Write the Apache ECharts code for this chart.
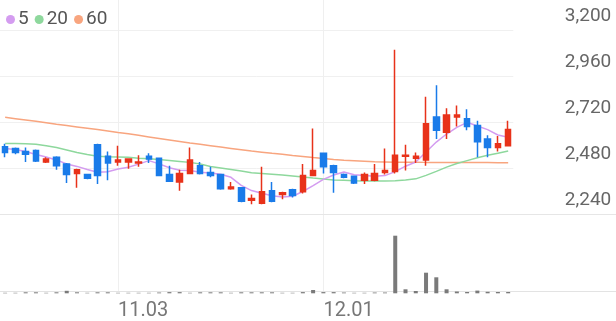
<!DOCTYPE html>
<html><head><meta charset="utf-8">
<script src="https://cdn.jsdelivr.net/npm/echarts@6/dist/echarts.min.js"></script>
<style>html,body{margin:0;padding:0;background:#fff}#c{width:616px;height:321px}</style>
</head><body><div id="c"></div>
<script>
const dates = ['10.17','10.20','10.21','10.22','10.23','10.24','10.27','10.28','10.29','10.30','10.31',
  '11.03','11.04','11.05','11.06','11.07','11.10','11.11','11.12','11.13','11.14','11.17','11.18','11.19','11.20','11.21','11.24','11.25','11.26','11.27','11.28',
  '12.01','12.02','12.03','12.04','12.05','12.08','12.09','12.10','12.11','12.12','12.15','12.16','12.17','12.18','12.19','12.22','12.23','12.24','12.26'];
const emptySlots = ['s1','s2','s3','s4','s5','s6','s7','s8','s9','s10'];
const opens  = [2595,2585,2570,2575,2515,2540,2505,2455,2450,2605,2545,2515,2515,2510,2545,2535,2450,2410,2455,2495,2460,2450,2375,2380,2315,2300,2365,2345,2370,2360,2445,2560,2495,2450,2440,2420,2420,2460,2465,2545,2535,2525,2750,2670,2750,2740,2705,2635,2590,2600];
const closes = [2565,2565,2555,2520,2530,2495,2450,2475,2430,2445,2510,2525,2530,2515,2530,2445,2415,2455,2525,2455,2445,2375,2385,2310,2325,2360,2310,2355,2340,2445,2470,2490,2460,2435,2405,2450,2455,2470,2550,2550,2545,2715,2680,2760,2760,2700,2620,2590,2610,2685];
const lows   = [2540,2555,2515,2515,2510,2475,2405,2380,2425,2400,2420,2495,2480,2490,2510,2440,2410,2365,2455,2450,2435,2370,2370,2305,2295,2295,2305,2320,2330,2350,2440,2455,2355,2430,2400,2400,2415,2450,2455,2470,2510,2495,2635,2635,2700,2680,2540,2540,2570,2600];
const highs  = [2610,2590,2590,2580,2540,2545,2510,2480,2450,2610,2570,2600,2535,2550,2560,2535,2495,2475,2590,2515,2490,2450,2410,2380,2345,2490,2410,2360,2375,2505,2690,2565,2500,2455,2445,2460,2505,2585,3100,2605,2565,2855,2915,2795,2810,2790,2730,2655,2650,2730];
const ma5  = [2586,2580,2570,2554,2541,2525,2505,2492,2476,2461,2464,2478,2488,2504,2522,2505,2485,2472,2470,2462,2458,2451,2435,2393,2366,2352,2339,2332,2336,2361,2392,2424,2447,2463,2448,2444,2441,2444,2465,2493,2515,2567,2619,2661,2696,2722,2703,2684,2656,2644];
const ma20 = [2612,2611,2610,2608,2600,2591,2578,2564,2554,2545,2542,2541,2540,2535,2532,2528,2523,2518,2513,2504,2492,2484,2476,2468,2459,2455,2451,2447,2442,2437,2431,2426,2421,2420,2417,2416,2416,2416,2417,2421,2427,2445,2466,2488,2507,2522,2537,2550,2561,2572];
const ma60 = [2748,2741,2734,2727,2720,2712,2705,2698,2691,2684,2677,2669,2662,2654,2646,2638,2630,2622,2614,2607,2600,2593,2586,2579,2572,2566,2560,2555,2549,2544,2538,2533,2528,2524,2522,2519,2516,2515,2514,2514,2514,2513,2513,2513,2513,2512,2512,2512,2511,2511];
const volumes = [5,5,10,10,5,10,25,10,5,10,10,5,5,5,5,8,12,12,5,10,10,10,5,10,10,10,10,5,5,12,33,12,12,8,5,5,8,8,576,40,23,206,160,40,18,13,27,15,13,13];
const priceTicks = [2240,2480,2720,2960,3200];
const xTickLabels = ['11.03','12.01'];
const maNames = ['5','20','60'];

const UP = '#e8321a', DOWN = '#1a7be9';
const C5 = '#d49cf0', C20 = '#8ed89d', C60 = '#f8a57f';
const candleData = dates.map((d, i) => [opens[i], closes[i], lows[i], highs[i]]);
const slots = dates.concat(emptySlots);
const showTick = (i, v) => xTickLabels.indexOf(v) >= 0;
const fmt = v => String(v).replace(/\B(?=(\d{3})+(?!\d))/g, ',');

const chart = echarts.init(document.getElementById('c'), null, {renderer: 'canvas'});
chart.setOption({
  animation: false,
  legend: {
    data: maNames, left: 1, top: 5, icon: 'circle', itemWidth: 9, itemHeight: 9, itemGap: 6,
    selectedMode: false,
    textStyle: {fontFamily: 'Roboto', fontSize: 19, color: '#555', padding: [0,0,0,-2]}
  },
  grid: [
    {left: 0, width: 513.3, top: 30.7, height: 184},
    {left: 0, width: 513.3, top: 235.7, height: 57.6},
    {left: 0, right: 0, top: 0, height: 293.3},
    {left: 0, right: 0, top: 0, height: 214.7}
  ],
  xAxis: [
    {gridIndex: 0, type: 'category', data: dates, boundaryGap: true, show: false},
    {gridIndex: 1, type: 'category', data: dates, boundaryGap: true, show: false},
    {gridIndex: 2, type: 'category', data: slots, boundaryGap: true,
      axisLine: {show: true, lineStyle: {color: '#e3e3e3', width: 1}},
      axisTick: {show: false},
      splitLine: {show: true, interval: showTick, alignWithLabel: true, lineStyle: {color: '#efefef', width: 1}},
      axisLabel: {interval: showTick, align: 'left', margin: 10, color: '#777', fontFamily: 'Roboto', fontSize: 20}},
    {gridIndex: 3, type: 'category', data: slots, boundaryGap: true,
      axisLine: {show: true, lineStyle: {color: '#e6e6e6', width: 1}},
      axisTick: {show: false}, axisLabel: {show: false}, splitLine: {show: false}}
  ],
  yAxis: [
    {gridIndex: 0, type: 'value', position: 'right', min: priceTicks[0], max: priceTicks[priceTicks.length-1],
      interval: priceTicks[1] - priceTicks[0],
      axisLine: {show: false}, axisTick: {show: false},
      splitLine: {show: true, lineStyle: {color: '#f0f0f0', width: 1}},
      axisLabel: {align: 'right', margin: 98, verticalAlign: 'bottom', padding: [0,0,5,0],
        color: '#666', fontFamily: 'Roboto', fontSize: 19, formatter: fmt}},
    {gridIndex: 1, type: 'value', min: 0, max: Math.max.apply(null, volumes), show: false},
    {gridIndex: 2, type: 'value', show: false},
    {gridIndex: 3, type: 'value', show: false}
  ],
  series: [
    {name: '60', type: 'line', xAxisIndex: 0, yAxisIndex: 0, data: ma60, symbol: 'none', smooth: false,
      lineStyle: {color: C60, width: 1.5}, itemStyle: {color: C60}, z: 2},
    {name: '20', type: 'line', xAxisIndex: 0, yAxisIndex: 0, data: ma20, symbol: 'none', smooth: false,
      lineStyle: {color: C20, width: 1.5}, itemStyle: {color: C20}, z: 2},
    {name: '5', type: 'line', xAxisIndex: 0, yAxisIndex: 0, data: ma5, symbol: 'none', smooth: false,
      lineStyle: {color: C5, width: 1.5}, itemStyle: {color: C5}, z: 2},
    {name: 'price', type: 'candlestick', xAxisIndex: 0, yAxisIndex: 0, data: candleData, barWidth: 6,
      itemStyle: {color: UP, color0: DOWN, borderColor: UP, borderColor0: DOWN, borderWidth: 1.5}, z: 3},
    {name: 'volume', type: 'bar', xAxisIndex: 1, yAxisIndex: 1, data: volumes, barWidth: 4,
      itemStyle: {color: '#7a7a7a'}}
  ]
});
</script></body></html>
